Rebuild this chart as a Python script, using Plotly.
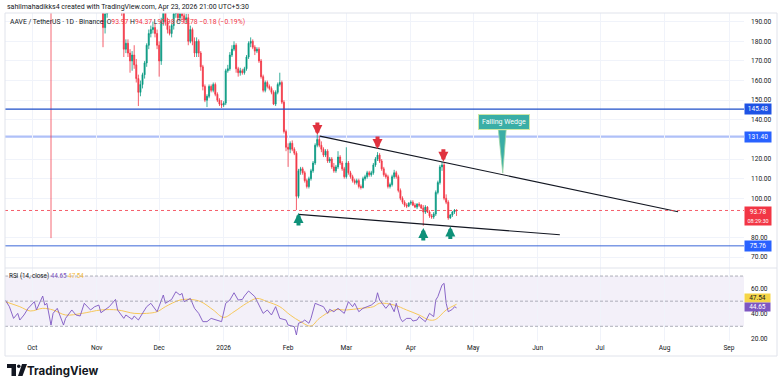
import plotly.graph_objects as go
import pandas as pd

W, H = 783, 388
ML, MR, MT, MB = 5, 39, 13, 47
PLOT_W = W - ML - MR
PLOT_H = H - MT - MB
MAIN_BOTTOM = (H - MB - 268) / PLOT_H

# ---------------- data ----------------
candle_start = "2025-11-03"
candle_end = "2026-04-23"

opens = [
    212, 201, 187, 194, 199, 205, 203, 208, 212, 205, 199, 195, 176, 179, 174, 170, 173, 168, 161, 154,
    158, 163, 169, 178, 184, 186, 187, 184,
    178, 170, 190, 195, 190, 186, 184, 188, 194, 197, 192, 194, 193, 191, 192, 180, 186, 180, 174, 180,
    174, 167, 157, 150, 152, 157, 155, 158, 153, 150, 148,
    147.5, 148.5, 165, 166, 173, 176, 178, 166, 164, 165, 164, 166, 172, 179, 180, 177, 175, 176, 170, 162,
    155, 159, 157, 156, 154, 148, 154, 158, 159, 149, 134,
    126, 125, 128, 125, 123, 101, 114, 115, 113, 109, 106, 110, 114, 118, 127, 130, 127, 125, 122, 124,
    119, 120, 116, 114, 116, 121, 118, 115,
    111, 118, 113, 111, 109, 108, 109, 106, 105.5, 110, 111, 113, 112, 113, 117, 120, 122, 119, 115, 112,
    111, 106, 107, 111, 113, 111, 104, 100, 98, 96.5, 96,
    97.5, 98, 96.5, 95.5, 97, 96.5, 95, 93, 95.5, 93, 91, 90.5, 92, 103, 108, 116, 117, 100, 98, 90,
    91.5, 93, 93.97,
]
highs = [
    214, 203, 197, 201, 207, 207, 210, 215, 214, 207, 202, 197, 181, 181, 176, 175, 178, 171, 163, 160,
    164, 170, 179, 186, 188, 190, 189, 186,
    180, 192, 198, 197, 192, 188, 189, 196, 202, 199, 196, 196, 195, 194, 194, 188, 187, 182, 182, 181,
    175, 168, 158, 153, 158, 158, 159, 159, 154, 151, 150,
    149.5, 166, 168, 174.5, 178, 180, 179, 167, 166.5, 166, 167, 173, 180, 182, 181, 178, 177, 177, 171, 163,
    160, 160, 158, 157, 155, 155, 159, 164, 160, 150, 135,
    128, 129, 129.5, 126, 124, 115, 116, 116, 114, 110, 111, 115, 119, 128, 132.5, 132, 129, 126, 125, 125,
    121, 121, 118, 117, 124, 122, 119, 116,
    126, 119, 114, 112, 110, 110, 110, 107, 111, 112, 114, 114, 114, 118, 121, 123.5, 123, 120, 116, 113,
    112, 108, 112, 114.5, 114, 112, 105, 101, 99, 97.5, 98,
    99, 99, 97.5, 97.5, 98, 97, 96.5, 96.5, 96, 94, 92, 93, 104, 109, 117, 118.5, 118, 102, 99, 92,
    93.5, 94.5, 94.37,
]
lows = [
    199, 177, 184, 192, 197, 201, 201, 205, 203, 197, 193, 172, 174, 172, 164, 165, 166, 159, 147, 152,
    156, 161, 167, 176, 182, 184, 182, 176,
    162, 168, 188, 188, 184, 183, 182, 186, 192, 190, 190, 191, 189, 189, 178, 179, 178, 172, 172, 172,
    165, 155, 149, 146.5, 151, 154, 154, 152, 149, 147, 146,
    146.5, 147.5, 164, 165, 172, 175, 164, 162, 162.5, 163, 163, 165, 171, 177, 176, 173, 174, 169, 161, 154,
    154, 156, 155, 153, 147.5, 147, 153, 157, 148, 133, 124,
    116, 123, 124, 122, 94, 100, 112, 112, 108, 105, 105, 109, 113, 117, 126, 126, 123.5, 121, 121, 118,
    118, 115, 113, 113, 115, 117, 114, 110,
    110, 112, 110, 108, 107, 107, 105, 104.5, 105, 109, 110, 111, 111, 112, 116, 119, 118, 114, 111, 110,
    105, 105, 106, 110, 110, 103, 99, 97, 95.5, 95, 95.5,
    96.5, 96, 95, 94.5, 95.5, 94.5, 86, 92, 92.5, 90, 89.5, 89.5, 91, 102, 107, 114, 99, 97, 89, 89.5,
    90.5, 92, 90.98,
]
closes = [
    201, 187, 194, 199, 205, 203, 208, 212, 205, 199, 195, 176, 179, 174, 170, 173, 168, 161, 154, 158,
    163, 169, 178, 184, 186, 187, 184, 178,
    170, 190, 195, 190, 186, 184, 188, 194, 197, 192, 194, 193, 191, 192, 180, 186, 180, 174, 180, 174,
    167, 157, 150, 152, 157, 155, 158, 153, 150, 148, 147.5,
    148.5, 165, 166, 173, 176, 178, 166, 164, 165, 164, 166, 172, 179, 180, 177, 175, 176, 170, 162, 155,
    159, 157, 156, 154, 148, 154, 158, 159, 149, 134, 126,
    125, 128, 125, 123, 101, 114, 115, 113, 109, 106, 110, 114, 118, 127, 130, 127, 125, 122, 124, 119,
    120, 116, 114, 116, 121, 118, 115, 111,
    118, 113, 111, 109, 108, 109, 106, 105.5, 110, 111, 113, 112, 113, 117, 120, 122, 119, 115, 112, 111,
    106, 107, 111, 113, 111, 104, 100, 98, 96.5, 96, 97.5,
    98, 96.5, 95.5, 97, 96.5, 95, 93, 95.5, 93, 91, 90.5, 92, 103, 108, 116, 117, 100, 98, 90, 91.5,
    93, 93.96, 93.78,
]

rsi_dates = [
    "2025-09-18", "2025-09-20", "2025-09-22", "2025-09-24", "2025-09-25", "2025-09-27", "2025-09-29",
    "2025-10-02", "2025-10-03", "2025-10-06", "2025-10-07", "2025-10-08", "2025-10-10", "2025-10-11",
    "2025-10-13", "2025-10-14", "2025-10-16", "2025-10-17", "2025-10-20", "2025-10-22", "2025-10-24",
    "2025-10-26", "2025-10-29", "2025-10-31", "2025-11-02", "2025-11-03", "2025-11-05", "2025-11-07",
    "2025-11-10", "2025-11-11", "2025-11-14", "2025-11-15", "2025-11-18", "2025-11-19", "2025-11-21",
    "2025-11-23", "2025-11-25", "2025-11-27", "2025-11-30", "2025-12-03", "2025-12-04", "2025-12-07",
    "2025-12-09", "2025-12-11", "2025-12-12", "2025-12-13", "2025-12-16", "2025-12-18", "2025-12-20",
    "2025-12-22", "2025-12-24", "2025-12-26", "2025-12-29", "2025-12-31", "2026-01-02", "2026-01-04",
    "2026-01-06", "2026-01-08", "2026-01-10", "2026-01-11", "2026-01-13", "2026-01-15", "2026-01-16",
    "2026-01-18", "2026-01-20", "2026-01-22", "2026-01-24", "2026-01-26", "2026-01-28", "2026-01-31",
    "2026-02-01", "2026-02-04", "2026-02-05", "2026-02-06", "2026-02-08", "2026-02-09", "2026-02-11",
    "2026-02-12", "2026-02-14", "2026-02-16", "2026-02-18", "2026-02-20", "2026-02-21", "2026-02-23",
    "2026-02-25", "2026-02-28", "2026-03-02", "2026-03-04", "2026-03-05", "2026-03-07", "2026-03-09",
    "2026-03-11", "2026-03-13", "2026-03-15", "2026-03-16", "2026-03-17", "2026-03-19", "2026-03-20",
    "2026-03-22", "2026-03-24", "2026-03-25", "2026-03-27", "2026-03-28", "2026-03-30", "2026-04-01",
    "2026-04-02", "2026-04-04", "2026-04-05", "2026-04-07", "2026-04-08", "2026-04-10", "2026-04-12",
    "2026-04-13", "2026-04-14", "2026-04-16", "2026-04-17", "2026-04-18", "2026-04-19", "2026-04-21",
    "2026-04-22", "2026-04-23",
]
rsi_values = [
    50.9, 45.6, 36.3, 40.3, 35.0, 39.0, 44.3,
    49.6, 43.0, 54.1, 46.9, 48.3, 31.0, 40.3,
    44.3, 40.3, 31.0, 36.3, 43.0, 39.0, 38.2,
    48.3, 43.0, 45.6, 46.9, 40.8, 43.0, 45.6,
    51.4, 43.0, 36.3, 39.0, 35.5, 38.2, 35.0,
    40.3, 45.6, 48.3, 41.6, 54.9, 48.3, 51.4,
    57.5, 54.9, 56.2, 49.6, 52.2, 44.3, 40.3,
    33.7, 33.7, 36.3, 35.0, 33.7, 48.3, 50.9,
    56.7, 50.9, 51.4, 54.1, 58.1, 54.9, 53.6,
    46.9, 40.3, 43.0, 39.0, 45.6, 36.3, 35.0,
    31.0, 29.7, 23.1, 32.4, 33.7, 35.0, 32.4,
    36.3, 48.3, 46.9, 45.6, 40.3, 43.5, 41.6,
    44.3, 40.3, 49.6, 45.6, 48.3, 41.6, 44.3,
    45.6, 46.9, 49.6, 56.7, 50.9, 46.9, 44.3,
    48.3, 41.6, 48.3, 36.3, 33.7, 36.3, 36.3,
    34.2, 35.0, 37.7, 35.0, 33.7, 40.3, 37.7,
    50.9, 53.6, 62.8, 64.2, 48.3, 41.6, 43.5,
    45.6, 44.65,
]
rsi_ma_dates = [
    "2025-09-18", "2025-09-25", "2025-09-30", "2025-10-06", "2025-10-11", "2025-10-17", "2025-10-25",
    "2025-11-03", "2025-11-11", "2025-11-19", "2025-11-25", "2025-11-30", "2025-12-04", "2025-12-11",
    "2025-12-16", "2025-12-21", "2025-12-27", "2026-01-01", "2026-01-06", "2026-01-12", "2026-01-17",
    "2026-01-22", "2026-01-28", "2026-02-02", "2026-02-07", "2026-02-12", "2026-02-16", "2026-02-23",
    "2026-03-01", "2026-03-08", "2026-03-14", "2026-03-17", "2026-03-24", "2026-03-30", "2026-04-05",
    "2026-04-10", "2026-04-13", "2026-04-18", "2026-04-23",
]
rsi_ma_values = [
    49.6, 45.6, 42.2, 44.3, 43.0, 39.0, 40.3,
    43.0, 43.0, 40.3, 40.3, 41.6, 45.6, 50.9,
    51.4, 49.6, 43.0, 37.1, 41.6, 48.3, 52.2,
    49.6, 45.6, 39.0, 33.7, 30.2, 36.3, 43.0,
    43.0, 44.3, 45.6, 48.3, 46.9, 43.0, 39.0,
    35.0, 35.5, 43.0, 47.54,
]

month_ticks = ["2025-10-01", "2025-11-01", "2025-12-01", "2026-01-01", "2026-02-01", "2026-03-01",
               "2026-04-01", "2026-05-01", "2026-06-01", "2026-07-01", "2026-08-01", "2026-09-01"]
month_labels = ["Oct", "Nov", "Dec", "2026", "Feb", "Mar", "Apr", "May", "Jun", "Jul", "Aug", "Sep"]
price_ticks = [70, 80, 100, 110, 120, 140, 150, 160, 170, 180, 190]
rsi_ticks = [20, 40, 60]
rsi_bands = [70, 50, 30]

level_resistance = 145.48
level_wedge_top = 131.40
level_support = 75.76
last_price = 93.78
last_rsi = 44.65
last_rsi_ma = 47.54

upper_wedge_dates = ["2026-02-16T07:00", "2026-08-07T12:00"]
upper_wedge_prices = [131.7, 93.1]
lower_wedge_dates = ["2026-02-05T22:00", "2026-06-11T16:00"]
lower_wedge_prices = [91.8, 81.4]

down_arrow_dates = ["2026-02-15T02:00", "2026-03-16", "2026-04-16T16:00"]
down_arrow_prices = [132.2, 125.1, 118.6]
up_arrow_dates = ["2026-02-06", "2026-04-07", "2026-04-20"]
up_arrow_prices = [92.5, 84.8, 85.6]

event_date = "2025-10-10"
event_low = 79.7

callout_text = "Falling Wedge"
callout_date = "2026-05-15T14:00"
callout_price = 139.1
pointer_dates = ["2026-05-13T02:00", "2026-05-16T20:00", "2026-05-15T05:00"]
pointer_prices = [134.8, 134.8, 112.8]

x_range = ["2025-09-17T21:00", "2026-09-08T05:00"]
y_range = [64.47, 194.43]
rsi_range = [18.3, 76.4]

# ---------------- styles ----------------
UP = "#089981"
DN = "#F23645"
GRID = "#F0F3FA"
TXT = "#131722"
FONT = "Roboto"
TEAL = "#3AAEA6"


def px(x):
    return (x - ML) / PLOT_W


def py(y):
    return (H - MB - y) / PLOT_H


dates = pd.date_range(candle_start, candle_end, freq="D")
n = len(dates)
if not (len(opens) == len(highs) == len(lows) == len(closes) == n):
    raise ValueError(f"length mismatch {n} {len(opens)} {len(highs)} {len(lows)} {len(closes)}")

fig = go.Figure()

fig.add_trace(go.Candlestick(
    x=dates, open=opens, high=highs, low=lows, close=closes,
    increasing=dict(line=dict(color=UP, width=0.8), fillcolor=UP),
    decreasing=dict(line=dict(color=DN, width=0.8), fillcolor=DN),
    whiskerwidth=0, xaxis="x", yaxis="y", showlegend=False, hoverinfo="skip",
))

# wedge lines
fig.add_trace(go.Scatter(x=upper_wedge_dates, y=upper_wedge_prices, mode="lines",
                         line=dict(color=TXT, width=1.1), xaxis="x", yaxis="y",
                         showlegend=False, hoverinfo="skip"))
fig.add_trace(go.Scatter(x=lower_wedge_dates, y=lower_wedge_prices, mode="lines",
                         line=dict(color=TXT, width=1.1), xaxis="x", yaxis="y",
                         showlegend=False, hoverinfo="skip"))

# callout pointer
fig.add_trace(go.Scatter(x=pointer_dates + pointer_dates[:1], y=pointer_prices + pointer_prices[:1],
                         mode="lines", fill="toself", fillcolor=TEAL,
                         line=dict(color="#9DD6A8", width=0.8), xaxis="x", yaxis="y",
                         showlegend=False, hoverinfo="skip"))

# vertical event line
fig.add_trace(go.Scatter(x=[event_date, event_date], y=[event_low, y_range[1]], mode="lines",
                         line=dict(color="rgba(242,54,69,0.75)", width=1), xaxis="x", yaxis="y",
                         showlegend=False, hoverinfo="skip"))

# RSI
fig.add_trace(go.Scatter(x=rsi_ma_dates, y=rsi_ma_values, mode="lines", line_shape="spline",
                         line=dict(color="#F7C85A", width=1), xaxis="x2", yaxis="y2",
                         showlegend=False, hoverinfo="skip"))
fig.add_trace(go.Scatter(x=rsi_dates, y=rsi_values, mode="lines",
                         line=dict(color="#7E57C2", width=0.9), xaxis="x2", yaxis="y2",
                         showlegend=False, hoverinfo="skip"))

shapes = []
# horizontal levels
shapes.append(dict(type="line", xref="x domain", yref="y", x0=0, x1=1,
                   y0=level_wedge_top, y1=level_wedge_top,
                   line=dict(color="#AFC0F8", width=2.4), layer="below"))
shapes.append(dict(type="line", xref="x domain", yref="y", x0=0, x1=1,
                   y0=level_resistance, y1=level_resistance,
                   line=dict(color="#1E4FC9", width=1.3)))
shapes.append(dict(type="line", xref="x domain", yref="y", x0=0, x1=1,
                   y0=level_support, y1=level_support,
                   line=dict(color="#3A67D8", width=1)))
shapes.append(dict(type="line", xref="x domain", yref="y", x0=0, x1=1,
                   y0=last_price, y1=last_price,
                   line=dict(color=DN, width=0.8, dash="3px,3px")))
# RSI band
shapes.append(dict(type="rect", xref="x2 domain", yref="y2", x0=0, x1=1,
                   y0=rsi_bands[2], y1=rsi_bands[0], fillcolor="rgba(126,87,194,0.09)",
                   line=dict(width=0), layer="below"))
for b in rsi_bands:
    shapes.append(dict(type="line", xref="x2 domain", yref="y2", x0=0, x1=1, y0=b, y1=b,
                       line=dict(color="#9A9CA8", width=0.8, dash="3px,2px")))
# frame
shapes.append(dict(type="rect", xref="paper", yref="paper", x0=px(5), x1=px(777),
                   y0=py(356), y1=py(13), line=dict(color="#E0E3EB", width=1)))
shapes.append(dict(type="line", xref="paper", yref="paper", x0=px(5), x1=px(777),
                   y0=py(268), y1=py(268), line=dict(color="#E0E3EB", width=1)))
# TradingView logo
shapes.append(dict(type="rect", xref="paper", yref="paper", x0=px(7), x1=px(16),
                   y0=py(368), y1=py(364), fillcolor=TXT, line=dict(width=0)))
shapes.append(dict(type="rect", xref="paper", yref="paper", x0=px(11.5), x1=px(16),
                   y0=py(376), y1=py(364), fillcolor=TXT, line=dict(width=0)))
shapes.append(dict(type="circle", xref="paper", yref="paper", x0=px(17), x1=px(20.5),
                   y0=py(368), y1=py(364.5), fillcolor=TXT, line=dict(width=0)))
shapes.append(dict(type="path", xref="paper", yref="paper",
                   path=f"M{px(22)},{py(364)} L{px(27)},{py(364)} L{px(22.5)},{py(376)} L{px(18)},{py(376)} Z",
                   fillcolor=TXT, line=dict(width=0)))

annotations = []


def price_label(y, text, bg, fg="white", yref="y", h=8, shift=0, pad=1):
    annotations.append(dict(xref="paper", yref=yref, x=1, y=y, xanchor="left", yanchor="middle",
                            yshift=shift, text=text, showarrow=False, bgcolor=bg, borderpad=pad,
                            width=24, height=h, font=dict(family=FONT, size=6.5, color=fg),
                            align="center"))


price_label(level_resistance, f"{level_resistance:.2f}", "#1E53E5")
price_label(level_wedge_top, f"{level_wedge_top:.2f}", "#2962FF")
price_label(level_support, f"{level_support:.2f}", "#2962FF")
annotations.append(dict(xref="paper", yref="y", x=1, y=last_price, xanchor="left", yanchor="top",
                        yshift=4, text=f"{last_price:.2f}<br><span style='font-size:5.5px'>08:29:30</span>",
                        showarrow=False, bgcolor=DN, borderpad=1, width=24, height=16,
                        font=dict(family=FONT, size=6.5, color="white"), align="center"))
price_label(last_rsi_ma, f"{last_rsi_ma:.2f}", "#F5D547", fg=TXT, yref="y2", h=7, shift=6, pad=0.5)
price_label(last_rsi, f"{last_rsi:.2f}", "#7E57C2", yref="y2", h=7, shift=1, pad=0.5)

# arrows
for d, p in zip(down_arrow_dates, down_arrow_prices):
    annotations.append(dict(x=d, y=p, xref="x", yref="y", ax=0, ay=-14, text="", showarrow=True,
                            arrowhead=2, arrowsize=0.5, arrowwidth=4, arrowcolor="#E0323E"))
for d, p in zip(up_arrow_dates, up_arrow_prices):
    annotations.append(dict(x=d, y=p, xref="x", yref="y", ax=0, ay=14, text="", showarrow=True,
                            arrowhead=2, arrowsize=0.5, arrowwidth=4, arrowcolor="#0E9179"))

# callout
annotations.append(dict(x=callout_date, y=callout_price, xref="x", yref="y", text=callout_text,
                        showarrow=False, bgcolor=TEAL, bordercolor="#CFE8A6", borderwidth=1,
                        borderpad=3, font=dict(family=FONT, size=7, color="white")))

# header texts
annotations.append(dict(xref="paper", yref="paper", x=px(5), y=py(7), xanchor="left", yanchor="middle",
                        text="sahilmahadikks4 created with TradingView.com, Apr 23, 2026 21:00 UTC+5:30",
                        showarrow=False, font=dict(family=FONT, size=7, color=TXT)))
red = DN
legend = (f"AAVE / TetherUS · 1D · Binance  O<span style='color:{red}'>93.97</span> "
          f"H<span style='color:{red}'>94.37</span> L<span style='color:{red}'>90.98</span> "
          f"C<span style='color:{red}'>93.78</span> <span style='color:{red}'>−0.18 (−0.19%)</span>")
annotations.append(dict(xref="paper", yref="paper", x=px(8), y=py(22.5), xanchor="left", yanchor="middle",
                        text=legend, showarrow=False, font=dict(family=FONT, size=6.8, color=TXT)))
annotations.append(dict(xref="paper", yref="paper", x=px(7), y=py(276), xanchor="left", yanchor="middle",
                        text=(f"RSI (14, close) <span style='color:#7E57C2'>{last_rsi:.2f}</span> "
                              f"<span style='color:#F2B93B'>{last_rsi_ma:.2f}</span>"),
                        showarrow=False, font=dict(family=FONT, size=6.3, color=TXT)))
annotations.append(dict(xref="paper", yref="paper", x=px(25), y=py(371), xanchor="left", yanchor="middle",
                        text="<b>TradingView</b>", showarrow=False,
                        font=dict(family="Inter", size=11.5, color=TXT)))

axis_font = dict(family=FONT, size=6.6, color=TXT)
fig.update_layout(
    width=W, height=H, margin=dict(l=ML, r=MR, t=MT, b=MB),
    paper_bgcolor="white", plot_bgcolor="white", showlegend=False,
    shapes=shapes, annotations=annotations,
    xaxis=dict(domain=[0, 1], anchor="y", range=x_range, type="date", showticklabels=False,
               tickvals=month_ticks, showgrid=True, gridcolor=GRID, zeroline=False, showline=False,
               ticks="", rangeslider=dict(visible=False), fixedrange=True),
    xaxis2=dict(domain=[0, 1], anchor="y2", matches="x", range=x_range, type="date",
                tickvals=month_ticks, ticktext=month_labels, tickfont=axis_font, showgrid=True,
                gridcolor=GRID, zeroline=False, showline=False, ticks="", ticklabelstandoff=1),
    yaxis=dict(domain=[MAIN_BOTTOM, 1], range=y_range, side="right", tickvals=price_ticks,
               ticktext=[f"{v:.2f}" for v in price_ticks], tickfont=axis_font, showgrid=True,
               gridcolor=GRID, zeroline=False, showline=False, ticks="", ticklabelstandoff=6),
    yaxis2=dict(domain=[0, MAIN_BOTTOM], range=rsi_range, side="right", tickvals=rsi_ticks,
                ticktext=[f"{v:.2f}" for v in rsi_ticks], tickfont=axis_font, showgrid=False,
                zeroline=False, showline=False, ticks="", ticklabelstandoff=6),
)

fig.write_html("out.html", config={"displayModeBar": False},
               post_script="document.body.style.margin='0px';document.body.style.overflow='hidden';")
